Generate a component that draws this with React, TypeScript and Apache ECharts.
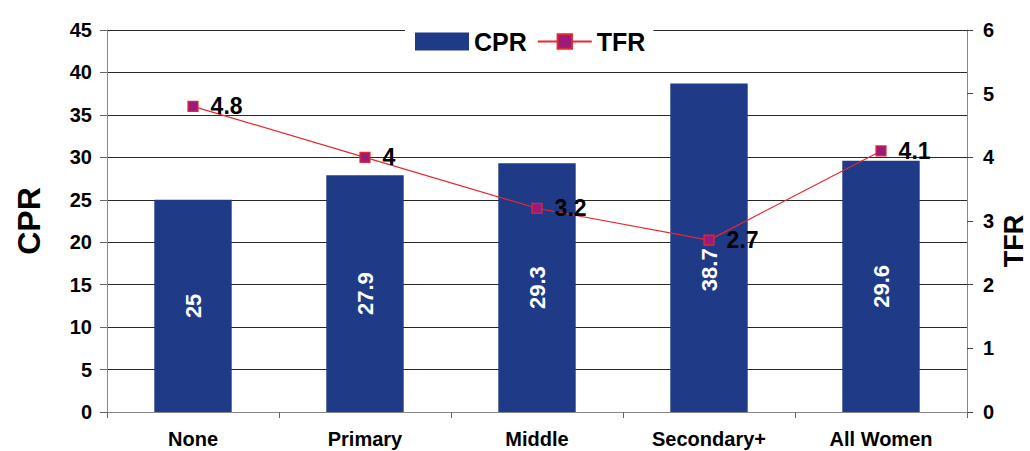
import React, { useEffect, useRef } from "react";
import * as echarts from "echarts";

const categories = ["None", "Primary", "Middle", "Secondary+", "All Women"];
const cprValues = [25, 27.9, 29.3, 38.7, 29.6];
const tfrValues = [4.8, 4, 3.2, 2.7, 4.1];
const cprTicks = { min: 0, max: 45, interval: 5 };
const tfrTicks = { min: 0, max: 6, interval: 1 };

const FONT = "'Liberation Sans', Arial, sans-serif";

export default function App() {
  const ref = useRef<HTMLDivElement>(null);
  useEffect(() => {
    if (!ref.current) return;
    const chart = echarts.init(ref.current, undefined, { renderer: "svg" });
    const barData = cprValues.map((v, i) =>
      i === 3 ? { value: v, label: { offset: [-22, 0] } } : v
    );
    chart.setOption({
      animation: false,
      textStyle: { fontFamily: FONT },
      grid: {
        left: 107,
        right: 63,
        top: 30,
        bottom: 39,
        containLabel: false,
        outerBoundsMode: "none",
      },
      legend: {
        left: 405,
        top: 24,
        padding: [5, 8, 5, 10],
        backgroundColor: "#ffffff",
        itemWidth: 54,
        itemHeight: 18,
        itemGap: 10,
        textStyle: { fontFamily: FONT, fontSize: 25, fontWeight: "bold", color: "#000" },
        data: [
          { name: "CPR", icon: "rect" },
          { name: "TFR" },
        ],
      },
      xAxis: {
        type: "category",
        data: categories,
        boundaryGap: true,
        axisLine: { show: true, lineStyle: { color: "#888", width: 1 } },
        axisTick: { show: true, alignWithLabel: false, length: 6, lineStyle: { color: "#666" } },
        axisLabel: { color: "#000", fontSize: 20, fontWeight: "bold", margin: 17, fontFamily: FONT },
      },
      yAxis: [
        {
          type: "value",
          ...cprTicks,
          name: "CPR",
          nameLocation: "middle",
          nameRotate: 90,
          nameGap: 62,
          nameTextStyle: { fontFamily: FONT, fontSize: 32, fontWeight: "bold", color: "#000" },
          axisLine: { show: true, lineStyle: { color: "#888", width: 1 } },
          axisTick: { show: true, length: 7, lineStyle: { color: "#666" } },
          axisLabel: { color: "#000", fontSize: 20, fontWeight: "bold", margin: 15, fontFamily: FONT },
          splitLine: { show: true, lineStyle: { color: "#2a2a2a", width: 1 } },
        },
        {
          type: "value",
          ...tfrTicks,
          position: "right",
          name: "TFR",
          nameLocation: "middle",
          nameRotate: 90,
          nameGap: 33,
          nameMoveOverlap: false,
          nameTextStyle: {
            fontFamily: FONT,
            fontSize: 27,
            fontWeight: "bold",
            color: "#000",
            padding: [0, 40, 0, 0],
          },
          axisLine: { show: true, lineStyle: { color: "#888", width: 1 } },
          axisTick: { show: true, length: 6, lineStyle: { color: "#444" } },
          axisLabel: { color: "#000", fontSize: 20, fontWeight: "bold", margin: 16, fontFamily: FONT },
          splitLine: { show: false },
        },
      ],
      series: [
        {
          name: "CPR",
          type: "bar",
          yAxisIndex: 0,
          barWidth: "45%",
          itemStyle: { color: "#1F3A86" },
          label: {
            show: true,
            position: "inside",
            rotate: 90,
            color: "#ffffff",
            fontSize: 22,
            fontWeight: "bold",
            fontFamily: FONT,
          },
          data: barData,
        },
        {
          name: "TFR",
          type: "line",
          yAxisIndex: 1,
          symbol: "rect",
          symbolSize: 10,
          lineStyle: { color: "#E8282E", width: 1.2 },
          itemStyle: { color: "#9B1A7A", borderColor: "#E8282E", borderWidth: 1.2 },
          label: {
            show: true,
            position: "right",
            distance: 12,
            color: "#000",
            fontSize: 23,
            fontWeight: "bold",
            fontFamily: FONT,
          },
          data: tfrValues,
        },
      ],
    });
    return () => chart.dispose();
  }, []);
  return (
    <div
      ref={ref}
      style={{ position: "fixed", left: 0, top: 0, width: 1030, height: 451, background: "#fff" }}
    />
  );
}
